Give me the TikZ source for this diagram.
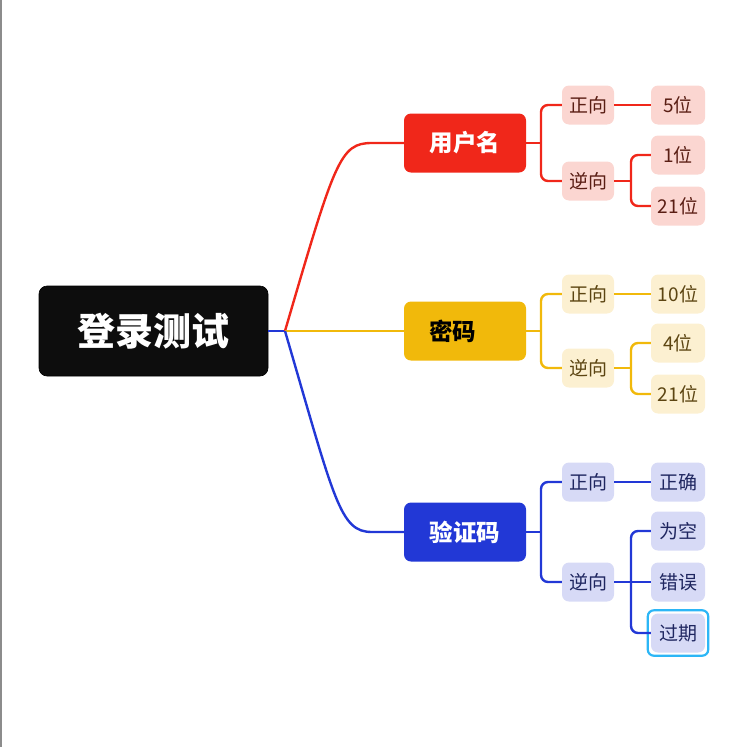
\documentclass[tikz,border=0pt]{standalone}
\usepackage{fontspec}
\setmainfont{Noto Sans CJK SC}
\usepackage{xcolor}
\usepackage{tikz}
\definecolor{rootbg}{HTML}{0D0D0D}
\definecolor{redm}{HTML}{F0271A}
\definecolor{redl}{HTML}{FBD6D1}
\definecolor{redt}{HTML}{5A1E14}
\definecolor{yelm}{HTML}{F1B90B}
\definecolor{yell}{HTML}{FCF0D1}
\definecolor{yelt}{HTML}{5C4512}
\definecolor{blum}{HTML}{2238D6}
\definecolor{blul}{HTML}{D7DAF6}
\definecolor{blut}{HTML}{1F2660}
\definecolor{hlcyan}{HTML}{2CB6F6}
\newcommand\fs[1]{\fontsize{#1}{#1}\selectfont}

\tikzset{
  rootbox/.style={fill=rootbg, draw=black, line width=0.6pt, rounded corners=8pt,
    minimum width=229pt, minimum height=90pt, inner sep=0pt,
    text=white, font=\fs{38}\bfseries},
  topic/.style={rounded corners=7pt, minimum width=122pt, minimum height=59pt,
    inner sep=0pt, font=\fs{23.5}\bfseries},
  sub/.style={rounded corners=7pt, minimum width=52pt, minimum height=39pt,
    inner sep=0pt, font=\fs{19}},
  leaf/.style={sub, minimum width=54pt},
  conn/.style={line width=2.4pt},
}

\begin{document}
\begin{tikzpicture}[x=1pt, y=-1pt]
        \useasboundingbox (0,0) rectangle (749,747);
        \draw[gray!90, line width=1.6pt] (1,0) -- (1,747);

        \coordinate (Root) at (153.5, 331);
        \coordinate (Fork) at (285, 331);

        \coordinate (User) at (465, 143);
        \coordinate (Pass) at (465, 331);
        \coordinate (Code) at (465, 532);

        \coordinate (Userp) at (588, 105);
        \coordinate (Usern) at (588, 181);
        \coordinate (Passp) at (588, 294);
        \coordinate (Passn) at (588, 368);
        \coordinate (Codep) at (588, 482);
        \coordinate (Coden) at (588, 582);

        \coordinate (Ua) at (678, 105);
        \coordinate (Ub) at (678, 155);
        \coordinate (Uc) at (678, 206);
        \coordinate (Pa) at (678, 294);
        \coordinate (Pb) at (678, 343);
        \coordinate (Pc) at (678, 394);
        \coordinate (Ca) at (678, 482);
        \coordinate (Cb) at (678, 531);
        \coordinate (Cc) at (678, 582);
        \coordinate (Cd) at (678, 633);

        \coordinate (Us1) at (541, 143);
        \coordinate (Us2) at (631, 181);
        \coordinate (Ps1) at (541, 331);
        \coordinate (Ps2) at (631, 368);
        \coordinate (Cs1) at (541, 532);
        \coordinate (Cs2) at (631, 582);

        \node[rootbox] (root) at (Root) {登录测试};

        \node[topic, fill=redm, text=white] (user) at (User) {用户名};
        \node[topic, fill=yelm, text=black, text width=72pt, inner xsep=25pt, align=left] (pass) at (Pass) {密码};
        \node[topic, fill=blum, text=white] (code) at (Code) {验证码};

        \node[sub, fill=redl, text=redt] (userp) at (Userp) {正向};
        \node[sub, fill=redl, text=redt] (usern) at (Usern) {逆向};
        \node[sub, fill=yell, text=yelt] (passp) at (Passp) {正向};
        \node[sub, fill=yell, text=yelt] (passn) at (Passn) {逆向};
        \node[sub, fill=blul, text=blut] (codep) at (Codep) {正向};
        \node[sub, fill=blul, text=blut] (coden) at (Coden) {逆向};

        \node[leaf, fill=redl, text=redt] (ua) at (Ua) {5位};
        \node[leaf, fill=redl, text=redt] (ub) at (Ub) {1位};
        \node[leaf, fill=redl, text=redt] (uc) at (Uc) {21位};
        \node[leaf, fill=yell, text=yelt] (pa) at (Pa) {10位};
        \node[leaf, fill=yell, text=yelt] (pb) at (Pb) {4位};
        \node[leaf, fill=yell, text=yelt] (pc) at (Pc) {21位};
        \node[leaf, fill=blul, text=blut] (ca) at (Ca) {正确};
        \node[leaf, fill=blul, text=blut] (cb) at (Cb) {为空};
        \node[leaf, fill=blul, text=blut] (cc) at (Cc) {错误};
        \node[leaf, fill=blul, text=blut] (cd) at (Cd) {过期};

        \draw[hlcyan, line width=2.2pt, rounded corners=6pt]
          ([shift={(-3,-3)}]cd.north west) rectangle ([shift={(3,3)}]cd.south east);

        \draw[conn, blum] (root.east) -- (Fork);
        \draw[conn, redm] (Fork) .. controls (335,160) and (340,143) .. (372,143) -- (user.west);
        \draw[conn, yelm] (Fork) -- (pass.west);
        \draw[conn, blum] (Fork) .. controls (335,502) and (340,532) .. (372,532) -- (code.west);

        \draw[conn, redm] (user.east) -- (Us1);
        \draw[conn, redm, rounded corners=7pt] (userp.west) -| (Us1) |- (usern.west);
        \draw[conn, redm] (userp.east) -- (ua.west);
        \draw[conn, redm] (usern.east) -- (Us2);
        \draw[conn, redm, rounded corners=7pt] (ub.west) -| (Us2) |- (uc.west);

        \draw[conn, yelm] (pass.east) -- (Ps1);
        \draw[conn, yelm, rounded corners=7pt] (passp.west) -| (Ps1) |- (passn.west);
        \draw[conn, yelm] (passp.east) -- (pa.west);
        \draw[conn, yelm] (passn.east) -- (Ps2);
        \draw[conn, yelm, rounded corners=7pt] (pb.west) -| (Ps2) |- (pc.west);

        \draw[conn, blum] (code.east) -- (Cs1);
        \draw[conn, blum, rounded corners=7pt] (codep.west) -| (Cs1) |- (coden.west);
        \draw[conn, blum] (codep.east) -- (ca.west);
        \draw[conn, blum] (coden.east) -- (cc.west);
        \draw[conn, blum, rounded corners=7pt] (cb.west) -| (Cs2) |- (cd.west);
      \end{tikzpicture}
\end{document}
